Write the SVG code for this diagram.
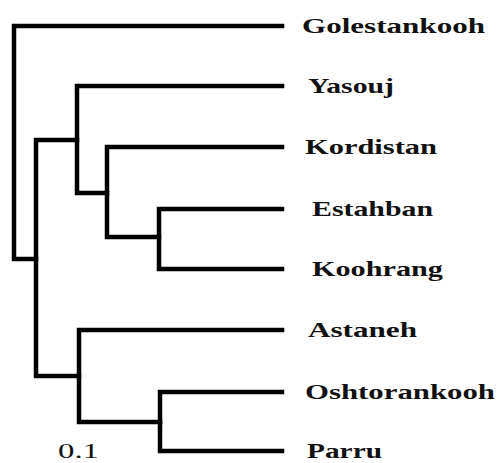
<svg xmlns="http://www.w3.org/2000/svg" width="497" height="463" viewBox="0 0 497 463">
<style>
.br{fill:none;stroke:#000;stroke-width:4.5;stroke-linejoin:miter;stroke-linecap:square}
.lb{font-family:"Liberation Serif","Times New Roman",serif;font-weight:bold;font-size:22px;fill:#111}
.sc{font-family:"Liberation Serif","Times New Roman",serif;font-size:21px;fill:#111}
</style>
<rect width="497" height="463" fill="#fff"/>
<g id="connectors">
<path class="br" d="M282 26 H14 V259 H36"/>
<path class="br" d="M77 140 H36 V376 H79"/>
<path class="br" d="M282 86 H77 V193 H107"/>
<path class="br" d="M282 147 H107 V237 H159"/>
<path class="br" d="M282 209 H159 V269 H282"/>
<path class="br" d="M282 330 H79 V422 H160"/>
<path class="br" d="M282 392 H160 V451 H282"/>
</g>
<g id="Golestankooh"><text class="lb" x="302" y="33" textLength="183" lengthAdjust="spacingAndGlyphs">Golestankooh</text></g>
<g id="Yasouj"><text class="lb" x="308" y="93" textLength="86" lengthAdjust="spacingAndGlyphs">Yasouj</text></g>
<g id="Kordistan"><text class="lb" x="305" y="154" textLength="132" lengthAdjust="spacingAndGlyphs">Kordistan</text></g>
<g id="Estahban"><text class="lb" x="312" y="216" textLength="121" lengthAdjust="spacingAndGlyphs">Estahban</text></g>
<g id="Koohrang"><text class="lb" x="312" y="276" textLength="131" lengthAdjust="spacingAndGlyphs">Koohrang</text></g>
<g id="Astaneh"><text class="lb" x="308" y="337" textLength="109" lengthAdjust="spacingAndGlyphs">Astaneh</text></g>
<g id="Oshtorankooh"><text class="lb" x="305" y="399" textLength="190" lengthAdjust="spacingAndGlyphs">Oshtorankooh</text></g>
<g id="Parru"><text class="lb" x="307" y="458" textLength="75" lengthAdjust="spacingAndGlyphs">Parru</text></g>
<g id="scale"><text class="sc" x="58" y="458" textLength="41" lengthAdjust="spacingAndGlyphs">0.1</text></g>
</svg>
